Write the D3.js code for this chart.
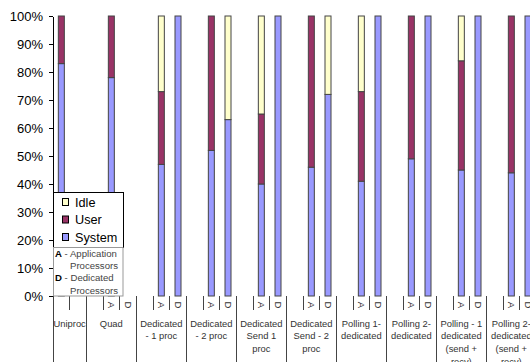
<!DOCTYPE html>
<html><head><meta charset="utf-8">
<script src="https://cdn.jsdelivr.net/npm/d3@7"></script>
<style>
body{margin:0;background:#fff;overflow:hidden}
svg{display:block;font-family:Arial,"Liberation Sans",sans-serif}
</style>
</head><body>
<svg id="chart" width="530" height="362"></svg>
<script>
// Category groups and their wrapped labels
const groups = ["Uniproc","Quad","Dedicated - 1 proc","Dedicated - 2 proc","Dedicated Send 1 proc",
  "Dedicated Send - 2 proc","Polling 1-dedicated","Polling 2-dedicated",
  "Polling - 1 dedicated (send + recv)","Polling 2-dedicated (send + recv)"];
const groupLabelLines = [["Uniproc"],["Quad"],["Dedicated","- 1 proc"],["Dedicated","- 2 proc"],
  ["Dedicated","Send 1","proc"],["Dedicated","Send - 2","proc"],["Polling 1-","dedicated"],
  ["Polling 2-","dedicated"],["Polling - 1","dedicated","(send +","recv)"],
  ["Polling 2-","dedicated","(send +","recv)"]];
// Sub-category slots inside each group (A = application, D = dedicated)
const subLabels = [["",""],["","A","D"],["","A","D"],["","A","D"],["","A","D"],
  ["","A","D"],["","A","D"],["","A","D"],["","A","D"],["","A","D"]];

// One entry per bar
const barGroup = [0,1,2,2,3,3,4,4,5,5,6,6,7,7,8,8,9,9];
const barSub   = ["","A","A","D","A","D","A","D","A","D","A","D","A","D","A","D","A","D"];
const system   = [83,78,47,100,52,63,40,100,46,72,41,100,49,100,45,100,44,100];
const user     = [17,22,26,0,48,0,25,0,54,0,32,0,51,0,39,0,56,0];
const idle     = [0,0,27,0,0,37,35,0,0,28,27,0,0,0,16,0,0,0];

const yTicks = [0,10,20,30,40,50,60,70,80,90,100];
const seriesKeys = ["system","user","idle"];
const seriesNames = {system:"System", user:"User", idle:"Idle"};
const colors = {system:"#9999FF", user:"#993366", idle:"#FFFFCC"};

const svg = d3.select("#chart");
const plot = {left:53, top:16, bottom:296};

const slotKeys = subLabels.flatMap((subs,gi)=>subs.map((s,si)=>gi+":"+si));
const slotW = 50/3;
const x = d3.scaleBand().domain(slotKeys)
  .range([plot.left, plot.left + slotKeys.length*slotW]).padding(0);
const y = d3.scaleLinear().domain([0,100]).range([plot.bottom, plot.top]);

const rows = barGroup.map((g,i)=>({
  key: g+":"+subLabels[g].indexOf(barSub[i]),
  system: system[i], user: user[i], idle: idle[i]
}));
const stacked = d3.stack().keys(seriesKeys)(rows);

// Category axis: group separators, sub ticks, labels
const catAxis = svg.append("g");
const groupStarts = subLabels.map((s,gi)=>x(gi+":0"));
groupStarts.push(x(slotKeys[slotKeys.length-1]) + x.bandwidth());
catAxis.selectAll("line.grp").data(groupStarts).join("line")
  .attr("x1",d=>d).attr("x2",d=>d).attr("y1",plot.bottom).attr("y2",362)
  .attr("stroke","#444").attr("stroke-width",1).attr("shape-rendering","crispEdges");

const subTicks = subLabels.flatMap((subs,gi)=>subs.slice(1).map((s,k)=>x(gi+":"+(k+1))));
catAxis.selectAll("line.sub").data(subTicks).join("line")
  .attr("x1",d=>d).attr("x2",d=>d).attr("y1",plot.bottom).attr("y2",plot.bottom+14)
  .attr("stroke","#444").attr("shape-rendering","crispEdges");

const subText = subLabels.flatMap((subs,gi)=>subs.map((s,si)=>({s, k:gi+":"+si}))).filter(d=>d.s);
catAxis.selectAll("text.sub").data(subText).join("text")
  .attr("transform",d=>`translate(${x(d.k)+x.bandwidth()/2},${plot.bottom+9}) rotate(90)`)
  .attr("text-anchor","middle").attr("dy","0.35em")
  .attr("font-size",9.5).attr("fill","#333").text(d=>d.s);

groupLabelLines.forEach((lines,gi)=>{
  const cx = (groupStarts[gi]+groupStarts[gi+1])/2;
  const t = catAxis.append("text").attr("text-anchor","middle")
    .attr("font-size",9.4).attr("fill","#333");
  lines.forEach((ln,li)=>t.append("tspan").attr("x",cx).attr("y",plot.bottom+30.5+li*12.8).text(ln));
});

// Stacked bars
const barW = 6;
stacked.forEach(series=>{
  svg.append("g").selectAll("rect").data(series.filter(d=>d[1]>d[0])).join("rect")
    .attr("x",d=>x(d.data.key)+x.bandwidth()/2-barW/2)
    .attr("width",barW)
    .attr("y",d=>y(d[1]))
    .attr("height",d=>y(d[0])-y(d[1]))
    .attr("fill",colors[series.key])
    .attr("stroke","#444").attr("stroke-width",1);
});

// Value axis
const yAxis = svg.append("g").attr("transform",`translate(${plot.left},0)`)
  .call(d3.axisLeft(y).tickValues(yTicks).tickFormat(d=>d+"%").tickSize(4).tickSizeOuter(0).tickPadding(6));
yAxis.selectAll("text").attr("font-size",13).attr("fill","#000").attr("font-family","Arial,'Liberation Sans',sans-serif");
yAxis.selectAll("line,path").attr("stroke","#000").attr("shape-rendering","crispEdges");

// Legend
const lg = svg.append("g");
lg.append("rect").attr("x",53.5).attr("y",192.5).attr("width",70).attr("height",55)
  .attr("fill","#fff").attr("stroke","#000");
["idle","user","system"].forEach((k,i)=>{
  const cy = 202 + i*17.5;
  lg.append("rect").attr("x",62.5).attr("y",cy-3.5).attr("width",6).attr("height",7)
    .attr("fill",colors[k]).attr("stroke","#000");
  lg.append("text").attr("x",75).attr("y",cy).attr("dy","0.36em")
    .attr("font-size",12.7).text(seriesNames[k]);
});

// Note box explaining A / D
const nb = svg.append("g");
nb.append("rect").attr("x",53.5).attr("y",247.5).attr("width",69.5).attr("height",48.5)
  .attr("fill","#fff").attr("stroke","#999");
const notes = [["A"," - Application"],["","Processors"],["D"," - Dedicated"],["","Processors"]];
notes.forEach((n,i)=>{
  const t = nb.append("text").attr("y",256.5+i*12.4).attr("font-size",9.6);
  if(n[0]){
    t.attr("x",55);
    t.append("tspan").attr("font-weight","bold").attr("fill","#000").text(n[0]);
    t.append("tspan").attr("fill","#444").text(n[1]);
  } else {
    t.attr("x",70).attr("fill","#444").text(n[1]);
  }
});
</script>
</body></html>
